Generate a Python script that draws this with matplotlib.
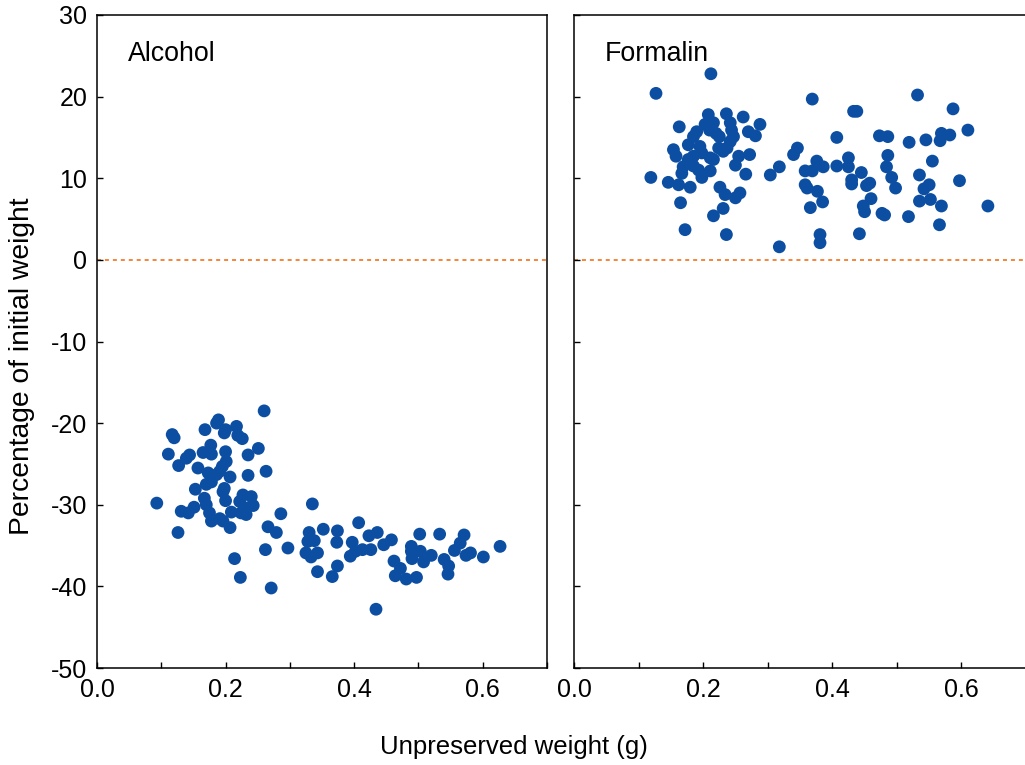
import matplotlib
matplotlib.use("Agg")
import matplotlib.pyplot as plt
from matplotlib.ticker import MultipleLocator

plt.rcParams['font.family'] = ['Liberation Sans', 'DejaVu Sans']

alcohol_x = [0.260, 0.189, 0.186, 0.168, 0.217, 0.200, 0.198, 0.117, 0.120, 0.219,
             0.226, 0.177, 0.251, 0.111, 0.165, 0.178, 0.200, 0.144, 0.139, 0.235,
             0.201, 0.127, 0.157, 0.195, 0.191, 0.173, 0.186, 0.207, 0.235, 0.263,
             0.170, 0.178, 0.153, 0.198, 0.196, 0.167, 0.227, 0.240, 0.222, 0.093,
             0.200, 0.170, 0.243, 0.232, 0.151, 0.131, 0.142, 0.209, 0.224, 0.232,
             0.175, 0.178, 0.191, 0.196, 0.286, 0.207, 0.126, 0.266, 0.279, 0.262,
             0.297, 0.214, 0.223, 0.271,
             0.335, 0.330, 0.328, 0.338, 0.325, 0.333, 0.343, 0.352, 0.374, 0.373,
             0.343, 0.374, 0.366, 0.407, 0.397, 0.394, 0.402, 0.413, 0.426, 0.423,
             0.436, 0.446, 0.458, 0.434, 0.462, 0.472, 0.464, 0.481, 0.497, 0.502,
             0.533, 0.489, 0.489, 0.503, 0.490, 0.508, 0.520, 0.540, 0.547, 0.546,
             0.556, 0.565, 0.571, 0.574, 0.581, 0.601, 0.627]
alcohol_y = [-18.5, -19.6, -20.0, -20.8, -20.4, -20.8, -21.2, -21.4, -21.8, -21.5,
             -21.9, -22.7, -23.1, -23.8, -23.6, -23.8, -23.5, -23.9, -24.3, -23.9,
             -24.7, -25.2, -25.5, -25.3, -25.9, -26.1, -26.3, -26.6, -26.4, -25.9,
             -27.5, -27.2, -28.1, -28.0, -28.4, -29.2, -28.8, -29.0, -29.6, -29.8,
             -29.5, -30.0, -30.1, -30.4, -30.3, -30.8, -31.0, -30.9, -31.0, -31.2,
             -31.0, -32.0, -31.7, -32.0, -31.1, -32.8, -33.4, -32.7, -33.4, -35.5,
             -35.3, -36.6, -38.9, -40.2,
             -29.9, -33.4, -34.5, -34.4, -35.9, -36.4, -35.9, -33.0, -33.2, -34.6,
             -38.2, -37.5, -38.8, -32.2, -34.6, -36.3, -35.7, -35.5, -35.5, -33.8,
             -33.4, -34.9, -34.3, -42.8, -36.9, -37.8, -38.7, -39.1, -38.9, -33.6,
             -33.6, -35.1, -35.7, -35.7, -36.6, -37.0, -36.2, -36.7, -37.5, -38.5,
             -35.6, -34.7, -33.7, -36.2, -35.9, -36.4, -35.1]

formalin_x = [0.212, 0.127, 0.208, 0.236, 0.262, 0.288, 0.163, 0.203, 0.216, 0.210,
              0.242, 0.244, 0.247, 0.190, 0.185, 0.220, 0.225, 0.270, 0.281, 0.242,
              0.237, 0.177, 0.195, 0.154, 0.158, 0.224, 0.231, 0.198, 0.185, 0.177,
              0.216, 0.211, 0.255, 0.272, 0.250, 0.169, 0.185, 0.193, 0.167, 0.211,
              0.198, 0.266, 0.304, 0.318, 0.119, 0.146, 0.162, 0.180, 0.226, 0.234,
              0.257, 0.250, 0.165, 0.231, 0.216, 0.172, 0.236, 0.318,
              0.369, 0.532, 0.438, 0.433, 0.587, 0.610, 0.407, 0.473, 0.486, 0.519,
              0.545, 0.569, 0.567, 0.582, 0.346, 0.340, 0.486, 0.376, 0.386, 0.358,
              0.369, 0.407, 0.425, 0.425, 0.445, 0.484, 0.492, 0.498, 0.555, 0.535,
              0.358, 0.361, 0.377, 0.430, 0.430, 0.453, 0.458, 0.542, 0.550, 0.597,
              0.385, 0.366, 0.460, 0.448, 0.450, 0.477, 0.481, 0.518, 0.535, 0.552,
              0.569, 0.641, 0.566, 0.381, 0.381, 0.442]
formalin_y = [22.8, 20.4, 17.8, 17.9, 17.5, 16.6, 16.3, 16.6, 16.8, 15.9,
              16.8, 15.9, 15.1, 15.7, 15.1, 15.5, 15.1, 15.7, 15.2, 14.5,
              13.7, 14.1, 13.9, 13.5, 12.7, 13.7, 13.3, 13.1, 12.7, 12.3,
              12.3, 12.5, 12.7, 12.9, 11.6, 11.4, 11.5, 11.0, 10.6, 10.9,
              10.1, 10.5, 10.4, 11.4, 10.1, 9.5, 9.2, 8.9, 8.9, 8.0,
              8.2, 7.6, 7.0, 6.3, 5.4, 3.7, 3.1, 1.6,
              19.7, 20.2, 18.2, 18.2, 18.5, 15.9, 15.0, 15.2, 15.1, 14.4,
              14.7, 15.5, 14.6, 15.3, 13.7, 12.9, 12.8, 12.1, 11.4, 10.9,
              10.9, 11.5, 12.5, 11.4, 10.7, 11.4, 10.1, 8.8, 12.1, 10.4,
              9.2, 8.8, 8.4, 9.8, 9.3, 9.1, 9.4, 8.7, 9.2, 9.7,
              7.1, 6.4, 7.5, 6.6, 5.9, 5.7, 5.5, 5.3, 7.2, 7.4,
              6.6, 6.6, 4.3, 3.1, 2.1, 3.2]

panels = ["Alcohol", "Formalin"]
x_ticks = [0.0, 0.2, 0.4, 0.6]
y_ticks = [-50, -40, -30, -20, -10, 0, 10, 20, 30]

dot_color = '#0c4ea2'
ref_color = '#f47b2a'
fs = 18

fig = plt.figure(figsize=(10.25, 7.65), dpi=100)
W, H = 1025, 765
ax1 = fig.add_axes([97 / W, 1 - 668 / H, (547 - 97) / W, (668 - 15) / H])
ax2 = fig.add_axes([574 / W, 1 - 668 / H, (1026 - 574) / W, (668 - 15) / H])

for ax, xs, ys, name in [(ax1, alcohol_x, alcohol_y, panels[0]),
                         (ax2, formalin_x, formalin_y, panels[1])]:
    ax.set_xlim(0, 0.7)
    ax.set_ylim(-50, 30)
    ax.axhline(0, color=ref_color, linestyle=(0, (2.2, 2.2)), linewidth=1.3, zorder=1)
    ax.scatter(xs, ys, s=85, color=dot_color, edgecolors='none', zorder=3)
    ax.set_xticks(x_ticks)
    ax.set_xticklabels([f"{v:.1f}" for v in x_ticks])
    ax.xaxis.set_minor_locator(MultipleLocator(0.1))
    ax.set_yticks(y_ticks)
    ax.tick_params(axis='both', which='both', direction='in', length=4.5, width=1.0,
                   labelsize=fs, pad=7, top=False, right=False)
    ax.tick_params(axis='x', which='minor', length=4.5)
    for sp in ax.spines.values():
        sp.set_linewidth(1.1)
    ax.text(0.068, 0.94, name, transform=ax.transAxes, fontsize=19.3,
            ha='left', va='center')

ax1.set_yticklabels([str(v) for v in y_ticks])
ax2.set_yticklabels([])
ax2.spines['right'].set_visible(False)

fig.text(514 / W, 1 - 747 / H, "Unpreserved weight (g)", fontsize=18.5,
         ha='center', va='center')
fig.text(22 / W, 1 - 366 / H, "Percentage of initial weight", fontsize=20.3,
         ha='center', va='center', rotation=90)

fig.savefig("out.png", dpi=100)
